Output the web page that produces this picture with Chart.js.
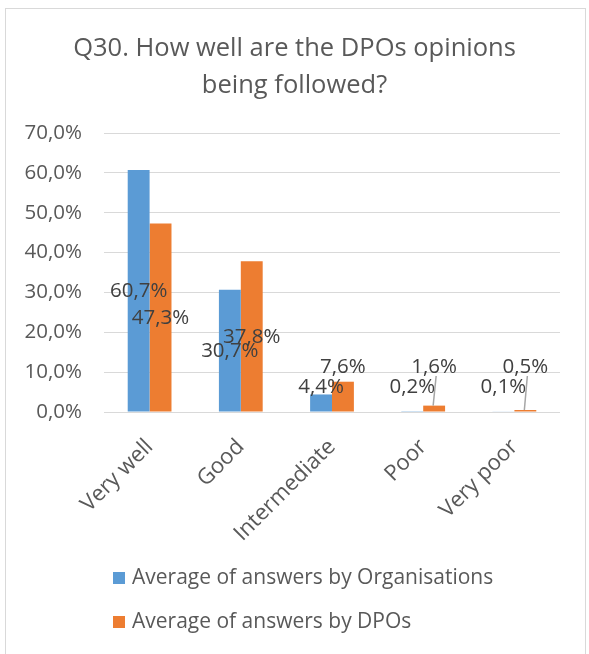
<!DOCTYPE html>
<html>
<head>
<meta charset="utf-8">
<script src="https://cdn.jsdelivr.net/npm/chart.js@4.4.1/dist/chart.umd.min.js"></script>
<style>
    html, body { margin: 0; padding: 0; background: #fff; }
    #frame {
        position: absolute; left: 5px; top: 8px; width: 581px; height: 700px;
        border: 1px solid #d9d9d9; border-bottom: none; box-sizing: border-box;
    }
    #wrap { position: absolute; left: 0; top: 0; width: 589px; height: 654px; }
</style>
</head>
<body>
<div id="frame"></div>
<div id="wrap"><canvas id="chartQ30"></canvas></div>
<script>
const titleLines = ['Q30. How well are the DPOs opinions', 'being followed?'];
const categories = ['Very well', 'Good', 'Intermediate', 'Poor', 'Very poor'];
const seriesNames = ['Average of answers by Organisations', 'Average of answers by DPOs'];
const valuesOrganisations = [60.7, 30.7, 4.4, 0.2, 0.1];
const valuesDPOs = [47.3, 37.8, 7.6, 1.6, 0.5];
const yTicks = [0, 10, 20, 30, 40, 50, 60, 70];

const FONT = "'Open Sans', 'Noto Sans', sans-serif";
const GREY_TEXT = '#595959';

function fmtPct(v) {
    return v.toFixed(1).replace('.', ',') + '%';
}

// title drawn centered on the whole frame
const titlePlugin = {
    id: 'titleLines',
    afterDraw(chart) {
        const ctx = chart.ctx;
        ctx.save();
        ctx.fillStyle = GREY_TEXT;
        ctx.font = '25.5px ' + FONT;
        ctx.textAlign = 'center';
        ctx.textBaseline = 'middle';
        titleLines.forEach((line, i) => {
            ctx.fillText(line, chart.width / 2, 49 + i * 37);
        });
        ctx.restore();
    }
};

// data labels, roughly where Excel left them, with leader lines for the tiny bars
const labelPlugin = {
    id: 'barLabels',
    afterDatasetsDraw(chart) {
        const ctx = chart.ctx;
        const base = chart.scales.y.getPixelForValue(0);
        ctx.save();
        ctx.font = '20.5px ' + FONT;
        ctx.fillStyle = '#404040';
        ctx.textAlign = 'center';
        ctx.textBaseline = 'middle';
        chart.data.datasets.forEach((ds, di) => {
            const meta = chart.getDatasetMeta(di);
            meta.data.forEach((bar, i) => {
                const mid = (bar.y + base) / 2;
                const y = Math.min(mid, base - ds.labelMinLift);
                if (di === 1 && bar.y - (y + 9) > 12) {
                    ctx.strokeStyle = '#a6a6a6';
                    ctx.lineWidth = 1.5;
                    ctx.beginPath();
                    ctx.moveTo(bar.x + 2, y + 9);
                    ctx.lineTo(bar.x - 1, bar.y);
                    ctx.stroke();
                }
                ctx.fillText(fmtPct(ds.data[i]), bar.x, y);
            });
        });
        ctx.restore();
    }
};

// legend stacked in two rows, left aligned
const legendPlugin = {
    id: 'stackedLegend',
    afterDraw(chart) {
        const ctx = chart.ctx;
        ctx.save();
        ctx.font = '21px ' + FONT;
        ctx.textBaseline = 'middle';
        chart.data.datasets.forEach((ds, i) => {
            const y = chart.height - 76 + i * 44;
            ctx.fillStyle = ds.backgroundColor;
            ctx.fillRect(113, y - 6, 12, 12);
            ctx.fillStyle = GREY_TEXT;
            ctx.fillText(ds.label, 132, y);
        });
        ctx.restore();
    }
};

const ctx = document.getElementById('chartQ30').getContext('2d');
new Chart(ctx, {
    type: 'bar',
    data: {
        labels: categories,
        datasets: [
            {
                label: seriesNames[0],
                data: valuesOrganisations,
                backgroundColor: '#5B9BD5',
                labelMinLift: 25
            },
            {
                label: seriesNames[1],
                data: valuesDPOs,
                backgroundColor: '#ED7D31',
                labelMinLift: 45
            }
        ]
    },
    options: {
        responsive: true,
        maintainAspectRatio: false,
        animation: false,
        categoryPercentage: 0.48,
        barPercentage: 1,
        layout: { padding: { left: 0, right: 29, top: 133, bottom: 0 } },
        scales: {
            y: {
                min: yTicks[0],
                max: yTicks[yTicks.length - 1],
                afterBuildTicks(scale) {
                    scale.ticks = yTicks.map(v => ({ value: v }));
                },
                afterFit(scale) { scale.width = 104; },
                border: { display: false },
                grid: { color: '#d9d9d9', lineWidth: 1, drawTicks: false },
                ticks: {
                    padding: 22,
                    color: GREY_TEXT,
                    font: { family: FONT, size: 20.5 },
                    callback: v => fmtPct(v)
                }
            },
            x: {
                afterFit(scale) { scale.height = 242; },
                border: { display: false },
                grid: { display: false },
                ticks: {
                    minRotation: 45,
                    maxRotation: 45,
                    padding: 14,
                    color: GREY_TEXT,
                    font: { family: FONT, size: 22 }
                }
            }
        },
        plugins: {
            legend: { display: false },
            title: { display: false },
            tooltip: { enabled: false }
        }
    },
    plugins: [titlePlugin, labelPlugin, legendPlugin]
});
</script>
</body>
</html>
